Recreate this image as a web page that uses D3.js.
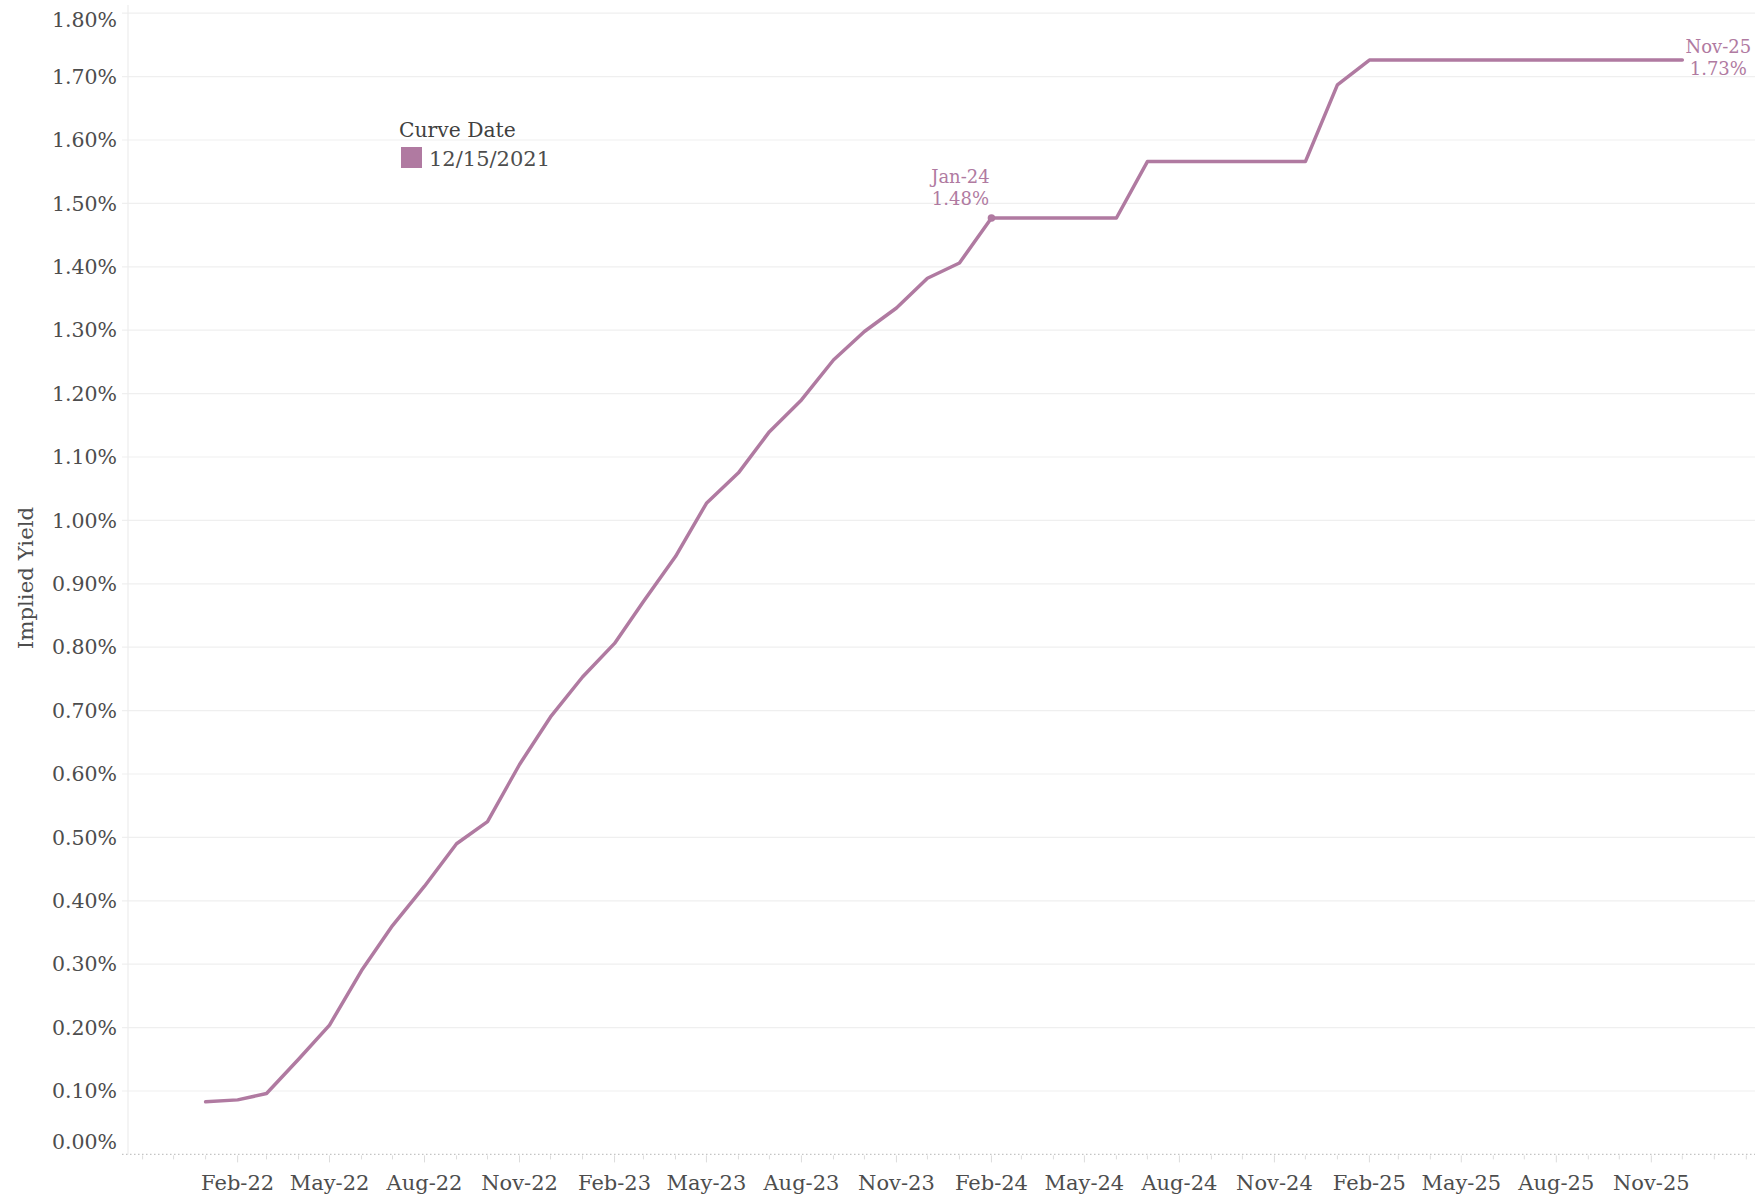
<!DOCTYPE html>
<html>
<head>
<meta charset="utf-8">
<script src="https://cdn.jsdelivr.net/npm/d3@7"></script>
<style>
  html, body { margin: 0; padding: 0; background: #fff; }
  svg { display: block; }
  text { font-family: Georgia, "DejaVu Serif", serif; }
</style>
</head>
<body>
<svg id="chart" width="1755" height="1196"></svg>
<script>
// ---- data ----
const months = [
  "Dec-21",
  "Jan-22","Feb-22","Mar-22","Apr-22","May-22","Jun-22","Jul-22","Aug-22","Sep-22","Oct-22","Nov-22","Dec-22",
  "Jan-23","Feb-23","Mar-23","Apr-23","May-23","Jun-23","Jul-23","Aug-23","Sep-23","Oct-23","Nov-23","Dec-23",
  "Jan-24","Feb-24","Mar-24","Apr-24","May-24","Jun-24","Jul-24","Aug-24","Sep-24","Oct-24","Nov-24","Dec-24",
  "Jan-25","Feb-25","Mar-25","Apr-25","May-25","Jun-25","Jul-25","Aug-25","Sep-25","Oct-25","Nov-25"
];
const impliedYield = [
  0.083,
  0.086,0.096,0.150,0.204,0.290,0.361,0.423,0.490,0.525,0.615,0.690,0.753,
  0.806,0.872,0.943,1.027,1.075,1.140,1.190,1.253,1.298,1.335,1.382,1.406,
  1.477,1.477,1.477,1.477,1.477,1.566,1.566,1.566,1.566,1.566,1.566,1.687,
  1.726,1.726,1.726,1.726,1.726,1.726,1.726,1.726,1.726,1.726,1.726
];
const yTicks = [0,0.1,0.2,0.3,0.4,0.5,0.6,0.7,0.8,0.9,1.0,1.1,1.2,1.3,1.4,1.5,1.6,1.7,1.8];
const xTickLabels = ["Feb-22","May-22","Aug-22","Nov-22","Feb-23","May-23","Aug-23","Nov-23",
  "Feb-24","May-24","Aug-24","Nov-24","Feb-25","May-25","Aug-25","Nov-25"];
const legendTitle = "Curve Date";
const seriesName = "12/15/2021";
const annotated = ["Jan-24","Nov-25"];

// ---- helpers ----
const monAbbr = ["Jan","Feb","Mar","Apr","May","Jun","Jul","Aug","Sep","Oct","Nov","Dec"];
function parseMonth(s) {
  const [m, y] = s.split("-");
  return new Date(2000 + (+y), monAbbr.indexOf(m), 1);
}
// each contract month is plotted at the end of that month
const data = months.map((m, i) => ({
  label: m,
  date: d3.timeMonth.offset(parseMonth(m), 1),
  value: impliedYield[i]
}));

const color = "#b07aa1";
const svg = d3.select("#chart");

const plotLeft = 128, plotRight = 1755, plotTop = 5, plotBottom = 1154.4;

const x = d3.scaleTime()
  .domain([new Date(2022, 0, 1), new Date(2025, 11, 1)])
  .range([205.6, 1682.3]);
const y = d3.scaleLinear()
  .domain([0, 1.8])
  .range([plotBottom, plotBottom - 1.8 * 634]);

// gridlines
svg.append("g").selectAll("line")
  .data(yTicks.filter(d => d > 0))
  .join("line")
  .attr("x1", 122).attr("x2", plotRight)
  .attr("y1", d => y(d)).attr("y2", d => y(d))
  .attr("stroke", "#efefef").attr("stroke-width", 1.2);

// vertical axis line
svg.append("line")
  .attr("x1", plotLeft).attr("x2", plotLeft)
  .attr("y1", plotTop).attr("y2", plotBottom)
  .attr("stroke", "#ededed").attr("stroke-width", 1.2);

// zero line (dotted)
svg.append("line")
  .attr("x1", 122).attr("x2", plotRight)
  .attr("y1", y(0)).attr("y2", y(0))
  .attr("stroke", "#c4c4c4").attr("stroke-width", 1.2)
  .attr("stroke-dasharray", "1.5,2.5");

// y tick labels
const fmt = d3.format(".2f");
svg.append("g").selectAll("text")
  .data(yTicks)
  .join("text")
  .attr("x", 117)
  .attr("y", d => y(d) + (d === 1.8 ? 7 : d === 0 ? -13 : 0))
  .attr("dy", "0.35em")
  .attr("text-anchor", "end")
  .attr("fill", "#4d4d4d")
  .attr("font-size", 20.5)
  .text(d => fmt(d) + "%");

// x ticks
const d0 = x.invert(plotLeft), d1 = x.invert(plotRight);
const allMonths = d3.timeMonth.range(d3.timeMonth.ceil(d0), d1);
const fmtTick = d3.timeFormat("%b-%y");
const majorSet = new Set(xTickLabels);
svg.append("g").selectAll("line")
  .data(allMonths)
  .join("line")
  .attr("x1", d => x(d)).attr("x2", d => x(d))
  .attr("y1", y(0) + 1)
  .attr("y2", d => y(0) + (majorSet.has(fmtTick(d)) ? 8 : 5))
  .attr("stroke", "#dcdcdc").attr("stroke-width", 1);

svg.append("g").selectAll("text")
  .data(xTickLabels)
  .join("text")
  .attr("x", d => x(parseMonth(d)))
  .attr("y", 1190)
  .attr("text-anchor", "middle")
  .attr("fill", "#4d4d4d")
  .attr("font-size", 21)
  .text(d => d);

// y axis title
svg.append("text")
  .attr("transform", "translate(33,578) rotate(-90)")
  .attr("text-anchor", "middle")
  .attr("fill", "#4d4d4d")
  .attr("font-size", 21.3)
  .text("Implied Yield");

// line
const line = d3.line().x(d => x(d.date)).y(d => y(d.value));
svg.append("path")
  .datum(data)
  .attr("d", line)
  .attr("fill", "none")
  .attr("stroke", color)
  .attr("stroke-width", 3.5)
  .attr("stroke-linejoin", "round")
  .attr("stroke-linecap", "round");

// annotations
const pctFmt = d3.format(".2f");
const a1 = data.find(d => d.label === annotated[0]);
svg.append("circle")
  .attr("cx", x(a1.date)).attr("cy", y(a1.value))
  .attr("r", 3.8).attr("fill", color);
const g1 = svg.append("g").attr("fill", color).attr("font-size", 18).attr("text-anchor", "middle");
g1.append("text").attr("x", x(a1.date) - 31).attr("y", y(a1.value) - 35).text(a1.label);
g1.append("text").attr("x", x(a1.date) - 31).attr("y", y(a1.value) - 13).text(pctFmt(a1.value) + "%");

const a2 = data.find(d => d.label === annotated[1]);
const g2 = svg.append("g").attr("fill", color).attr("font-size", 18).attr("text-anchor", "middle");
g2.append("text").attr("x", x(a2.date) + 36).attr("y", y(a2.value) - 7).text(a2.label);
g2.append("text").attr("x", x(a2.date) + 36).attr("y", y(a2.value) + 15).text(pctFmt(a2.value) + "%");

// legend
svg.append("text")
  .attr("x", 399).attr("y", 137)
  .attr("fill", "#404040").attr("font-size", 20.3)
  .text(legendTitle);
svg.append("rect")
  .attr("x", 401).attr("y", 147).attr("width", 21).attr("height", 21)
  .attr("fill", color);
svg.append("text")
  .attr("x", 429).attr("y", 166)
  .attr("fill", "#4d4d4d").attr("font-size", 21)
  .text(seriesName);
</script>
</body>
</html>
